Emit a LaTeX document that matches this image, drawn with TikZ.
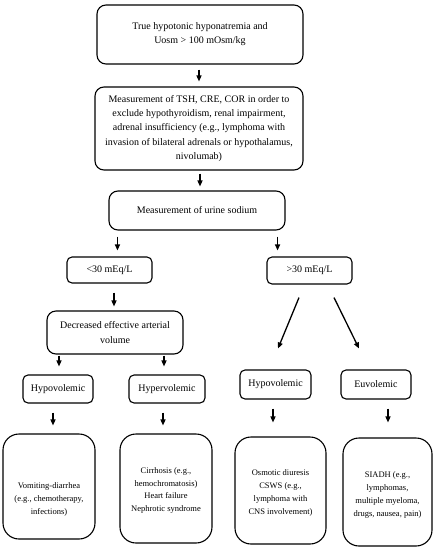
\documentclass[tikz,border=0pt]{standalone}
\usepackage{fontspec}
\setmainfont{Liberation Serif}
\usetikzlibrary{arrows.meta,calc}
\begin{document}
\begin{tikzpicture}[x=1pt,y=1pt,
  box/.style={draw,line width=1.1pt,rounded corners=9pt,align=center,inner sep=2pt,
    font=\fontsize{10}{14.2}\selectfont},
  sbox/.style={box,rounded corners=5pt},
  bbox/.style={box,rounded corners=16pt},
  btxt/.style={align=center,inner sep=0pt,font=\fontsize{8.5}{12.8}\selectfont},
  arr/.style={line width=1.3pt,-{Triangle[length=6pt,width=5pt]}}]
\useasboundingbox (0,0) rectangle (438,-550);
\node[box,minimum width=206pt,minimum height=59pt] (b1) at (200,-34.5) {True hypotonic hyponatremia and\\Uosm > 100 mOsm/kg};
\node[box,minimum width=208pt,minimum height=83pt] (b2) at (199,-128.5) {Measurement of TSH, CRE, COR in order to\\exclude hypothyroidism, renal impairment,\\adrenal insufficiency (e.g., lymphoma with\\invasion of bilateral adrenals or hypothalamus,\\nivolumab)};
\node[box,minimum width=176pt,minimum height=39pt] (b3) at (197,-210.5) {Measurement of urine sodium};
\node[sbox,minimum width=85pt,minimum height=26pt] (lt) at (109.5,-270) {<30 mEq/L};
\node[sbox,minimum width=85pt,minimum height=27pt] (gt) at (309.5,-270.5) {>30 mEq/L};
\node[box,minimum width=136pt,minimum height=43pt] (dv) at (115,-332.5) {Decreased effective arterial\\volume};
\node[sbox,minimum width=70pt,minimum height=28pt] (hl) at (58,-389) {Hypovolemic};
\node[sbox,minimum width=76pt,minimum height=28pt] (hy) at (167,-389) {Hypervolemic};
\node[sbox,minimum width=71pt,minimum height=29pt] (hr) at (275.5,-384.5) {Hypovolemic};
\node[sbox,minimum width=70pt,minimum height=29pt] (eu) at (376,-384.5) {Euvolemic};
\node[bbox,minimum width=92pt,minimum height=105pt] (c1) at (49,-486.5) {};
\node[bbox,minimum width=92pt,minimum height=109pt] (c2) at (166,-488.5) {};
\node[bbox,minimum width=91pt,minimum height=107pt] (c3) at (280.5,-490.5) {};
\node[bbox,minimum width=89pt,minimum height=108pt] (c4) at (387.5,-492) {};
\node[btxt] (t1) at ([yshift=-13pt]c1.center) {Vomiting-diarrhea\\(e.g., chemotherapy,\\infections)};
\node[btxt] (t2) at ([yshift=-2pt]c2.center) {Cirrhosis (e.g.,\\hemochromatosis)\\Heart failure\\Nephrotic syndrome};
\node[btxt] (t3) at ([yshift=-2.5pt]c3.center) {Osmotic diuresis\\CSWS (e.g.,\\lymphoma with\\CNS involvement)};
\node[btxt] (t4) at ([yshift=-3pt]c4.center) {SIADH (e.g.,\\lymphomas,\\multiple myeloma,\\drugs, nausea, pain)};
% connectors
\draw[arr,shorten <=5pt,shorten >=5pt] ([xshift=-1pt]b1.south) -- ([xshift=-1pt]b1.south |- b2.north);
\draw[arr,shorten <=3pt,shorten >=4pt] ([xshift=1pt]b2.south) -- ([xshift=1pt]b2.south |- b3.north);
\draw[arr,shorten <=6pt,shorten >=6pt] ([xshift=9pt]b3.south west) -- ([xshift=9pt]b3.south west |- lt.north);
\draw[arr,shorten <=6pt,shorten >=6pt] ([xshift=-8pt]b3.south east) -- ([xshift=-8pt]b3.south east |- gt.north);
\draw[arr,shorten <=9pt,shorten >=4pt] ([xshift=4.5pt]lt.south) -- ([xshift=4.5pt]lt.south |- dv.north);
\draw[arr] ($(gt.south)+(-10.5,-13)$) -- ($(hr.north)+(2.5,21)$);
\draw[arr] ($(gt.south)+(24.5,-13)$) -- ($(eu.north)+(-17,21)$);
\draw[arr,shorten <=1pt,shorten >=8pt] ([xshift=1pt]hl.north |- dv.south) -- ([xshift=1pt]hl.north);
\draw[arr,shorten <=1pt,shorten >=8pt] ([xshift=-3pt]hy.north |- dv.south) -- ([xshift=-3pt]hy.north);
\draw[arr,shorten <=9pt,shorten >=8pt] ([xshift=-5pt]hl.south) -- ([xshift=-5pt]hl.south |- c1.north);
\draw[arr,shorten <=9pt,shorten >=8pt] ([xshift=-4pt]hy.south) -- ([xshift=-4pt]hy.south |- c2.north);
\draw[arr,shorten <=9pt,shorten >=14pt] ([xshift=-2.5pt]hr.south) -- ([xshift=-2.5pt]hr.south |- c3.north);
\draw[arr,shorten <=9pt,shorten >=15pt] ([xshift=12pt]eu.south) -- ([xshift=12pt]eu.south |- c4.north);
\end{tikzpicture}
\end{document}
